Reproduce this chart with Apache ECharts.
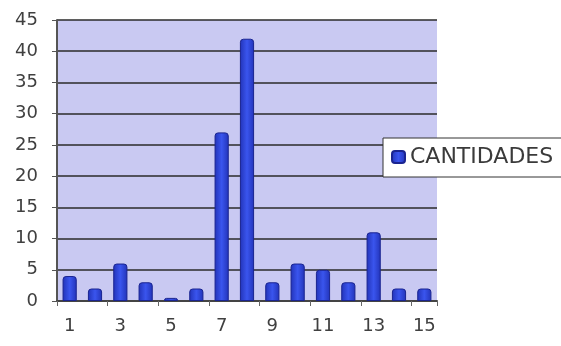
<!DOCTYPE html>
<html><head><meta charset="utf-8">
<script src="https://cdn.jsdelivr.net/npm/echarts@6/dist/echarts.min.js"></script>
<style>html,body{margin:0;padding:0;background:#fff}#c{width:561px;height:346px}</style>
</head><body><div id="c"></div>
<script>
const categories = ['1','2','3','4','5','6','7','8','9','10','11','12','13','14','15'];
const cantidades = [4, 2, 6, 3, 0.5, 2, 27, 42, 3, 6, 5, 3, 11, 2, 2];
const seriesName = 'CANTIDADES';

const chart = echarts.init(document.getElementById('c'), null, {renderer: 'canvas'});
chart.setOption({
  animation: false,
  backgroundColor: '#ffffff',
  grid: {left: 57, right: 124, top: 20, bottom: 45, show: true, backgroundColor: '#c9c9f2', borderWidth: 0},
  legend: {
    left: 383, top: 138, itemWidth: 13, itemHeight: 12, icon: 'roundRect', itemGap: 4,
    padding: [8, 20, 9, 8], backgroundColor: '#ffffff', borderColor: '#333', borderWidth: 1,
    textStyle: {fontFamily: 'DejaVu Sans', fontSize: 22, color: '#3a3a3a', padding: [0, 0, 0, 0]},
    data: [seriesName]
  },
  xAxis: {
    type: 'category', data: categories,
    axisLine: {lineStyle: {color: '#444', width: 2}},
    axisTick: {show: true, length: 5, lineStyle: {color: '#666'}},
    axisLabel: {interval: 1, margin: 16, fontFamily: 'DejaVu Sans', fontSize: 18, color: '#404040'}
  },
  yAxis: {
    type: 'value', min: 0, max: 45, interval: 5,
    axisLine: {show: true, lineStyle: {color: '#555', width: 2}},
    axisTick: {show: true, length: 5, lineStyle: {color: '#555'}},
    splitLine: {lineStyle: {color: '#2a2a2a', width: 1.5}},
    axisLabel: {margin: 19, fontFamily: 'DejaVu Sans', fontSize: 18, color: '#404040'}
  },
  series: [{
    name: seriesName, type: 'bar', data: cantidades, barWidth: '56%',
    itemStyle: {
      color: new echarts.graphic.LinearGradient(0, 0, 1, 0, [
        {offset: 0, color: '#2233b8'}, {offset: 0.5, color: '#3a55ee'}, {offset: 1, color: '#2233b8'}
      ]),
      borderColor: '#1a2490', borderWidth: 1, borderRadius: [3, 3, 0, 0]
    }
  }]
});
</script></body></html>
